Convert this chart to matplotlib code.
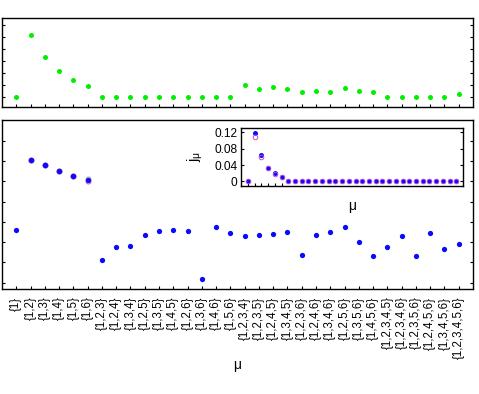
import matplotlib
matplotlib.use('Agg')
import matplotlib.pyplot as plt
import numpy as np

plt.rcParams['font.family'] = ['Liberation Sans', 'DejaVu Sans']
plt.rcParams['font.size'] = 8.3
plt.rcParams['mathtext.fontset'] = 'custom'
plt.rcParams['mathtext.rm'] = 'Liberation Sans'
plt.rcParams['mathtext.it'] = 'Liberation Sans'

# subsets mu
labels = ['{1}', '{1,2}', '{1,3}', '{1,4}', '{1,5}', '{1,6}',
          '{1,2,3}', '{1,2,4}', '{1,3,4}', '{1,2,5}', '{1,3,5}', '{1,4,5}',
          '{1,2,6}', '{1,3,6}', '{1,4,6}', '{1,5,6}',
          '{1,2,3,4}', '{1,2,3,5}', '{1,2,4,5}', '{1,3,4,5}', '{1,2,3,6}',
          '{1,2,4,6}', '{1,3,4,6}', '{1,2,5,6}', '{1,3,5,6}', '{1,4,5,6}',
          '{1,2,3,4,5}', '{1,2,3,4,6}', '{1,2,3,5,6}', '{1,2,4,5,6}',
          '{1,3,4,5,6}', '{1,2,3,4,5,6}']

# top panel (green)
top_vals = [0, 5.14, 3.33, 2.17, 1.42, 0.92,
            0, 0, 0, 0, 0, 0, 0, 0, 0, 0,
            0.97, 0.64, 0.78, 0.64, 0.42, 0.50, 0.42, 0.70, 0.50, 0.42,
            0, 0, 0, 0, 0, 0.20]

# bottom panel (blue filled)
bot_vals = [2.58, 6.06, 5.80, 5.53, 5.27, 5.04,
            1.12, 1.76, 1.81, 2.34, 2.56, 2.59, 2.53, 0.17, 2.73, 2.43,
            2.28, 2.33, 2.41, 2.49, 1.35, 2.35, 2.48, 2.74, 1.99, 1.30,
            1.74, 2.31, 1.33, 2.44, 1.67, 1.91]
# open markers, only where they differ visibly
open_idx = [2, 3, 4, 5, 6]
open_magenta = [6.04, 5.78, 5.51, 5.25, 5.00]
open_gray = [6.06, 5.80, 5.53, 5.27, 5.13]

# inset j_mu
j_blue = [0, 0.118, 0.0645, 0.033, 0.0196, 0.0113] + [0] * 26
j_magenta = [0, 0.109, 0.060, 0.032, 0.018, 0.011] + [0] * 26

x = np.arange(1, len(labels) + 1)

fig = plt.figure(figsize=(4.79, 3.94), dpi=100)
W, H = 479, 394


def px_axes(l, t, r, b):
    return fig.add_axes([l / W, (H - b) / H, (r - l) / W, (b - t) / H])


def style(ax):
    ax.tick_params(direction='in', length=2.5, width=0.8, top=False,
                   right=True, labelleft=False)
    for s in ax.spines.values():
        s.set_linewidth(1.0)


green = '#00ee00'
blue = '#0a0aff'
magenta = '#c050d0'

# top panel
ax1 = px_axes(2, 18, 473, 106.7)
ax1.plot(x, top_vals, 'o', color=green, ms=3.6, mew=0)
ax1.set_xlim(0, 33)
ax1.set_ylim(-0.83, 6.56)
ax1.set_xticks(x)
ax1.set_yticks(range(0, 7))
ax1.tick_params(labelbottom=False)
style(ax1)

# bottom panel
ax2 = px_axes(2, 120, 473, 289)
ax2.plot(x, bot_vals, 'o', color=blue, ms=3.8, mew=0, zorder=3)
ax2.plot(open_idx, open_gray, 'o', mfc='none', mec='#999999', ms=3.6,
         mew=0.7, zorder=2)
ax2.plot(open_idx, open_magenta, 'o', mfc='none', mec=magenta, ms=3.6,
         mew=0.7, zorder=2)
ax2.set_xlim(0, 33)
ax2.set_ylim(-0.31, 8.02)
ax2.set_yticks(range(0, 8))
ax2.set_xticks(x)
ax2.set_xticklabels(labels, rotation=90, va='top', ha='center')
style(ax2)
ax2.tick_params(axis='x', pad=5.5)
ax2.set_xlabel('μ', fontsize=10)
ax2.xaxis.set_label_coords(0.499, -0.41)

# inset
ax3 = px_axes(241.3, 127.7, 463, 186)
ax3.plot(x, j_blue, 'o', color=blue, ms=3.6, mew=0, zorder=2)
ax3.plot(x, j_magenta, 'o', mfc='none', mec=magenta, ms=3.3, mew=0.7,
         zorder=3)
ax3.set_xlim(0, 33)
ax3.set_ylim(-0.0115, 0.1315)
ax3.set_xticks(x[:6])
ax3.set_yticks([0, 0.04, 0.08, 0.12])
ax3.set_yticklabels(['0', '0.04', '0.08', '0.12'])
ax3.tick_params(direction='in', length=2.5, width=0.8, right=True,
                labelbottom=False, pad=3, labelsize=8.6)
for s in ax3.spines.values():
    s.set_linewidth(1.0)
ax3.set_ylabel(r'j$_\mu$', fontsize=10.5)
ax3.yaxis.set_label_coords(-0.165, 0.5)
ax3.set_xlabel('μ', fontsize=10)
ax3.xaxis.set_label_coords(0.499, -0.22)

fig.savefig('out.png', dpi=100)
